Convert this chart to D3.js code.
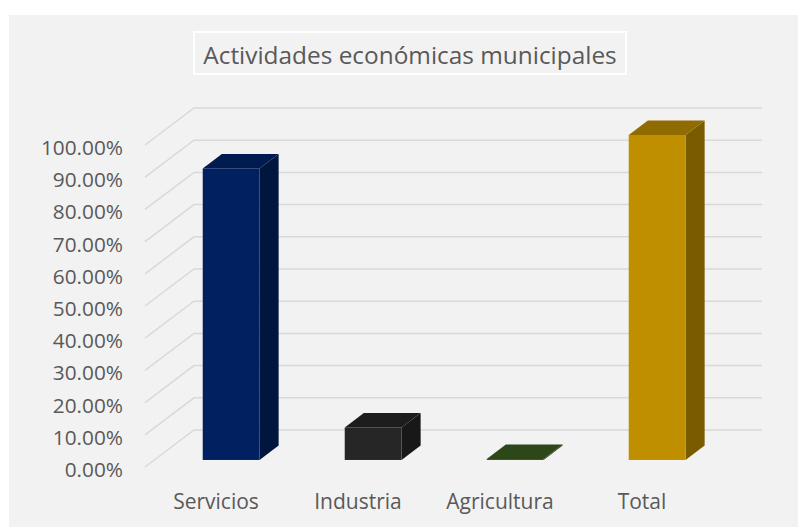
<!DOCTYPE html>
<html>
<head>
<meta charset="utf-8">
<script src="https://cdn.jsdelivr.net/npm/d3@7"></script>
<style>
  body { margin: 0; background: #fff; }
  text { font-family: "Open Sans", sans-serif; fill: #595959; }
</style>
</head>
<body>
<svg id="chart" width="798" height="527"></svg>
<script>
// data
const categories = ['Servicios', 'Industria', 'Agricultura', 'Total'];
const values = [0.897, 0.100, 0.003, 1.0];
const tickValues = [0, 0.1, 0.2, 0.3, 0.4, 0.5, 0.6, 0.7, 0.8, 0.9, 1.0];
const frontColors = ['#002060', '#262626', '#375623', '#bf8f00'];
const topColors = ['#001b50', '#1d1d1d', '#2d4719', '#8f6b00'];
const sideColors = ['#00163f', '#181818', '#243a14', '#7a5c00'];

const svg = d3.select('#chart');
const width = 798;
const height = 527;

// background panel
svg.append('rect')
  .attr('x', 9).attr('y', 15)
  .attr('width', width - 9).attr('height', height - 15)
  .attr('fill', '#f2f2f2');

// 3d depth offset (front of floor relative to back wall)
const depthX = -49;
const depthY = 37;

// back wall scales
const x = d3.scaleBand().domain(categories).range([194, 762]);
const y = d3.scaleLinear().domain([0, 1]).range([430, 108]);
const barH = d3.scaleLinear().domain([0, 1]).range([0, 325]);

// gridlines: diagonal on the side wall + horizontal on the back wall
const grid = svg.append('g');
tickValues.forEach(t => {
  grid.append('polyline')
    .attr('points', [
      [194 + depthX, y(t) + depthY],
      [194, y(t)],
      [762, y(t)]
    ].map(p => p.join(',')).join(' '))
    .attr('fill', 'none')
    .attr('stroke', '#d9d9d9')
    .attr('stroke-width', 1.5);
});

// y tick labels
svg.append('g').selectAll('text')
  .data(tickValues)
  .join('text')
  .attr('x', 123)
  .attr('y', d => y(d) + depthY + 10)
  .attr('text-anchor', 'end')
  .attr('font-size', 20.8)
  .text(d => d3.format('.2%')(d));

// bars
const d1 = 0.81, d0 = 0.42;
const bw = x.bandwidth() * 0.4;
const off = x.bandwidth() * 0.341;

const bars = svg.append('g');
categories.forEach((c, i) => {
  const xb = x(c) + off;
  const h = barH(values[i]);
  const xf = xb + depthX * d1;
  const xk = xb + depthX * d0;
  const floorF = y(0) + depthY * d1;
  const floorK = y(0) + depthY * d0;
  const topF = floorF - h;
  const topK = floorK - h;

  const g = bars.append('g');
  // side face
  g.append('polygon')
    .attr('points', [[xf + bw, topF], [xk + bw, topK], [xk + bw, floorK], [xf + bw, floorF]]
      .map(p => p.join(',')).join(' '))
    .attr('fill', sideColors[i]);
  // top face
  g.append('polygon')
    .attr('points', [[xf, topF], [xf + bw, topF], [xk + bw, topK], [xk, topK]]
      .map(p => p.join(',')).join(' '))
    .attr('fill', topColors[i]);
  // front face
  g.append('rect')
    .attr('x', xf).attr('y', topF)
    .attr('width', bw).attr('height', h)
    .attr('fill', frontColors[i]);
});

// category labels at the front of the floor
svg.append('g').selectAll('text')
  .data(categories)
  .join('text')
  .attr('x', d => x(d) + x.bandwidth() / 2 + depthX)
  .attr('y', 509)
  .attr('text-anchor', 'middle')
  .attr('font-size', 21)
  .text(d => d);

// title with box
svg.append('rect')
  .attr('x', 194).attr('y', 32)
  .attr('width', 432).attr('height', 42)
  .attr('fill', 'none')
  .attr('stroke', '#ffffff')
  .attr('stroke-width', 2);

svg.append('text')
  .attr('x', 410)
  .attr('y', 64)
  .attr('text-anchor', 'middle')
  .attr('font-size', 24.4)
  .text('Actividades económicas municipales');
</script>
</body>
</html>
